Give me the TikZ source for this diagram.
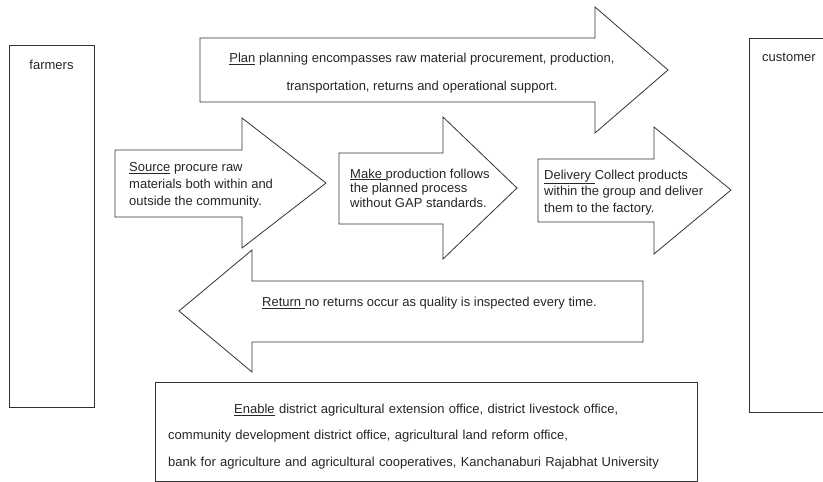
\documentclass[tikz,border=0pt]{standalone}
\usepackage{fontspec}
\setmainfont{Liberation Sans}
\usetikzlibrary{positioning}
\tikzset{blk/.style = {draw=black!80, fill=white, line width=0.8pt, line join=miter}}
\tikzset{lbl/.style = {inner sep=0pt, text=black!85, font=\fontsize{13}{17}\selectfont}}
\tikzset{
  every picture/.style={
    x=1pt, y=-1pt,
  }
}
\begin{document}
\begin{tikzpicture}
      \useasboundingbox (0,0) rectangle (823,482);
      \draw[blk] (9,45) rectangle (94,407);
      \draw[blk] (749,38) rectangle (830,412);
      \draw[blk] (155,382) rectangle (697,481);
      \draw[blk] (200,38) -- (595,38) -- (595,7) -- (668,70) -- (595,133)
        -- (595,102) -- (200,102) -- cycle;
      \draw[blk] (115,150) -- (242,150) -- (242,118) -- (326,183) -- (242,248)
        -- (242,217) -- (115,217) -- cycle;
      \draw[blk] (339,153) -- (443,153) -- (443,117) -- (517,188) -- (443,259)
        -- (443,224) -- (339,224) -- cycle;
      \draw[blk] (538,159) -- (654,159) -- (654,127) -- (731,190) -- (654,254)
        -- (654,222) -- (538,222) -- cycle;
      \draw[blk] (643,281) -- (252,281) -- (252,250) -- (179,311) -- (252,372)
        -- (252,342) -- (643,342) -- cycle;
      \node[lbl] (farmers) at (51.5,65) {farmers};
      \node[lbl, anchor=west] (customer) at (762,57) {customer};
      \node[lbl, align=center, font=\fontsize{13}{28}\selectfont] (plan) at (422,73)
        {\underline{Plan} planning encompasses raw material procurement, production,\\
         transportation, returns and operational support.};
      \node[lbl, align=left, anchor=west] (source) at (129,185)
        {\underline{Source} procure raw\\ materials both within and\\ outside the community.};
      \node[lbl, align=left, anchor=west, font=\fontsize{13}{14.5}\selectfont] (make)
        at (350,188)
        {\underline{Make\ }production follows\\ the planned process\\ without GAP standards.};
      \node[lbl, align=left, anchor=west, font=\fontsize{13}{16.5}\selectfont] (delivery)
        at (544,192.5)
        {\underline{Delivery\ }Collect products\\ within the group and deliver\\ them to the factory.};
      \node[lbl, anchor=west] (return) at (262,303)
        {\underline{Return\ }no returns occur as quality is inspected every time.};
      \node[lbl, align=left, anchor=west, text width=516pt,
        font=\fontsize{13}{26.5}\selectfont] (enable) at (168,436.5)
        {\makebox[\linewidth]{\underline{Enable} district agricultural extension office, district livestock office,}\\
         community development district office, agricultural land reform office,\\
         bank for agriculture and agricultural cooperatives, Kanchanaburi Rajabhat University};
\end{tikzpicture}
\end{document}
